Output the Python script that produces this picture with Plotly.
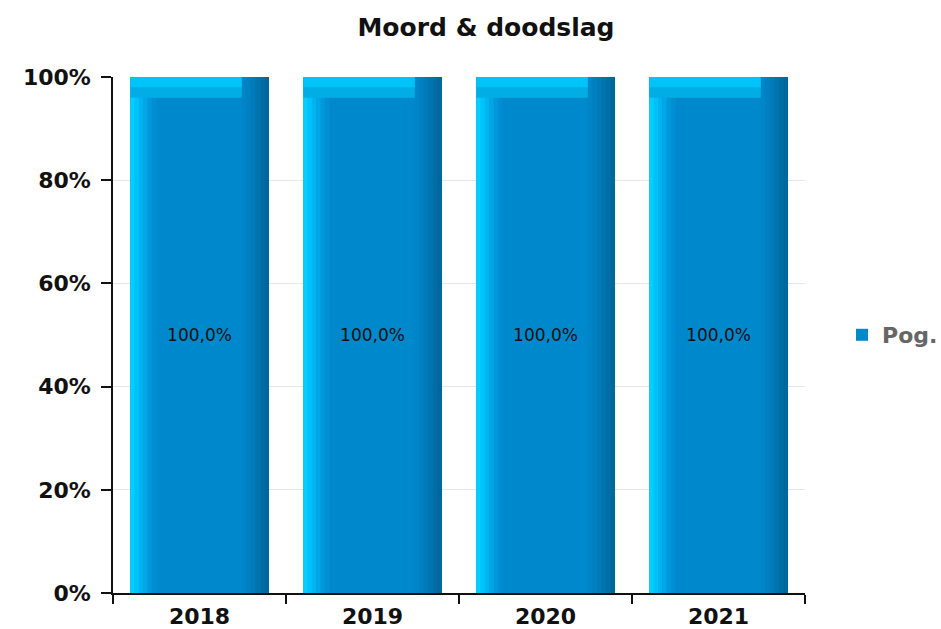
import plotly.graph_objects as go

years = ["2018", "2019", "2020", "2021"]
pog_values = [100.0, 100.0, 100.0, 100.0]
value_labels = ["100,0%", "100,0%", "100,0%", "100,0%"]
y_ticks = [0, 20, 40, 60, 80, 100]
y_tick_labels = ["0%", "20%", "40%", "60%", "80%", "100%"]

BAR_W = 0.8
HALF = BAR_W / 2
FACE = "#0088CC"
LEFT_BEVEL = 0.15
RIGHT_BEVEL = 0.155
TOP_FRAC = 0.04

fig = go.Figure()

# main face (legend entry + labels)
fig.add_trace(go.Bar(
    x=years, y=pog_values, name="Pog.", width=BAR_W,
    marker=dict(color=FACE, line=dict(width=0)),
    text=value_labels, textposition="inside", insidetextanchor="middle",
    textfont=dict(family="DejaVu Sans", size=17, color="#111111"),
    constraintext="none", hoverinfo="skip", showlegend=True,
))

# left bevel gradient strips
left_cols = ["#00CFFF", "#00C2FA", "#00B4F2", "#00A6E6", "#0098DA", "#008ED2"]
n = len(left_cols)
sw = LEFT_BEVEL / n
for i, c in enumerate(left_cols):
    fig.add_trace(go.Bar(
        x=years, y=pog_values, width=sw + 0.002, offset=-HALF + i * sw,
        marker=dict(color=c, line=dict(width=0)),
        showlegend=False, hoverinfo="skip",
    ))

# top bevel band (two tones for a soft vertical fade)
top_w = BAR_W - RIGHT_BEVEL
fig.add_trace(go.Bar(
    x=years, y=[v * TOP_FRAC for v in pog_values],
    base=[v * (1 - TOP_FRAC) for v in pog_values],
    width=top_w, offset=-HALF,
    marker=dict(color="#00AEE6", line=dict(width=0)),
    showlegend=False, hoverinfo="skip",
))
fig.add_trace(go.Bar(
    x=years, y=[v * TOP_FRAC / 2 for v in pog_values],
    base=[v * (1 - TOP_FRAC / 2) for v in pog_values],
    width=top_w, offset=-HALF,
    marker=dict(color="#00C4F8", line=dict(width=0)),
    showlegend=False, hoverinfo="skip",
))

# right bevel gradient strips
right_cols = ["#0085C8", "#0080C0", "#007AB8", "#0074AF", "#006EA6", "#00679C"]
n = len(right_cols)
sw = RIGHT_BEVEL / n
for i, c in enumerate(right_cols):
    fig.add_trace(go.Bar(
        x=years, y=pog_values, width=sw + 0.002,
        offset=HALF - RIGHT_BEVEL + i * sw,
        marker=dict(color=c, line=dict(width=0)),
        showlegend=False, hoverinfo="skip",
    ))

fig.update_layout(
    width=941, height=629,
    barmode="overlay",
    template="none",
    paper_bgcolor="white", plot_bgcolor="white",
    margin=dict(l=113, r=136, t=77, b=36, autoexpand=False),
    title=dict(text="<b>Moord &amp; doodslag</b>", x=486 / 941, xanchor="center",
               y=1 - 27 / 629, yanchor="middle", yref="container",
               font=dict(family="DejaVu Sans", size=25, color="#111111")),
    font=dict(family="DejaVu Sans"),
    xaxis=dict(
        type="category", range=[-0.5, 3.5],
        showline=True, linecolor="#111111", linewidth=1.5,
        ticks="outside", tickson="boundaries", ticklen=9, tickwidth=1.5,
        tickcolor="#111111", ticklabelstandoff=3,
        showgrid=False, automargin=False,
        tickfont=dict(family="DejaVu Sans", size=22, color="#111111", weight="bold"),
    ),
    yaxis=dict(
        range=[0, 100], tickvals=y_ticks, ticktext=y_tick_labels,
        showline=True, linecolor="#111111", linewidth=1.5,
        ticks="outside", ticklen=10, tickwidth=1.5, tickcolor="#111111",
        ticklabelstandoff=6,
        showgrid=True, gridcolor="#e6e6e6", gridwidth=1,
        zeroline=False, automargin=False,
        tickfont=dict(family="DejaVu Sans", size=22, color="#111111", weight="bold"),
    ),
    legend=dict(x=1.0535, xanchor="left", y=0.5, yanchor="middle",
                font=dict(family="DejaVu Sans", size=22, color="#666666", weight="bold"),
                bgcolor="rgba(0,0,0,0)"),
    bargap=0.2,
)

# remove the default page margin so the 941x629 figure fills the window exactly
fig.write_html("out.html", config={"displayModeBar": False},
               post_script="document.body.style.margin='0';")
